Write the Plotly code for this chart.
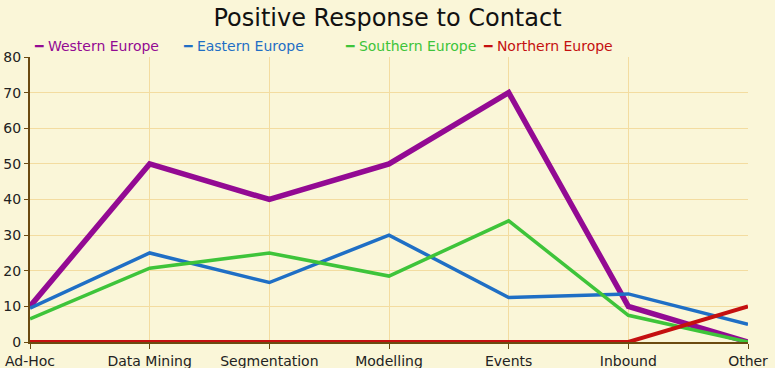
import plotly.graph_objects as go

categories = ["Ad-Hoc", "Data Mining", "Segmentation", "Modelling", "Events", "Inbound", "Other"]
western = [10, 50, 40, 50, 70, 10, 0]
eastern = [9.5, 25, 16.7, 30, 12.5, 13.5, 5]
southern = [6.5, 20.7, 25, 18.5, 34, 7.5, 0]
northern = [0, 0, 0, 0, 0, 0, 10]
y_ticks = [0, 10, 20, 30, 40, 50, 60, 70, 80]

series = [
    ("Western Europe", western, "#930a93", 5.5),
    ("Eastern Europe", eastern, "#1f6fc5", 3.5),
    ("Southern Europe", southern, "#3ec43a", 3.5),
    ("Northern Europe", northern, "#c41010", 4),
]
legend_px = [32, 181, 343, 481]

fig = go.Figure()
for name, vals, color, w in series:
    fig.add_trace(go.Scatter(x=categories, y=vals, mode="lines", name=name,
                             line=dict(color=color, width=w), cliponaxis=False))

annotations = []
for (name, _, color, _), px in zip(series, legend_px):
    annotations.append(dict(
        text=f"<b>━</b> {name}", x=(px - 30) / 718, xref="paper", xanchor="left",
        y=1.0 + (57 - 46) / 285, yref="paper", yanchor="middle", showarrow=False,
        font=dict(family="DejaVu Sans", size=14, color=color)))

fig.update_layout(
    width=775, height=368,
    paper_bgcolor="#faf6d8", plot_bgcolor="#faf6d8",
    margin=dict(l=30, r=27, t=57, b=26, autoexpand=False),
    showlegend=False,
    font=dict(family="DejaVu Sans", size=14, color="#222222"),
    title=dict(text="Positive Response to Contact", x=0.5, xanchor="center",
               y=1 - 18 / 368, yanchor="middle",
               font=dict(family="DejaVu Sans", size=24, color="#111111")),
    annotations=annotations,
    xaxis=dict(type="category", range=[0, 6], showgrid=True, gridcolor="#f3dca0",
               gridwidth=1, ticks="outside", ticklen=5, tickcolor="#6b4a10",
               showline=True, linecolor="#6b4a10", linewidth=2, automargin=False,
               tickfont=dict(size=14, color="#222222"), zeroline=False),
    yaxis=dict(range=[0, 80], tickvals=y_ticks, showgrid=True, gridcolor="#f3dca0",
               ticks="outside", ticklen=4, tickcolor="#6b4a10", automargin=False,
               showline=True, linecolor="#6b4a10", linewidth=2,
               tickfont=dict(size=14, color="#222222"), zeroline=False),
)

fig.write_html("out.html", config={"displayModeBar": False},
               post_script="document.body.style.margin='0';")
